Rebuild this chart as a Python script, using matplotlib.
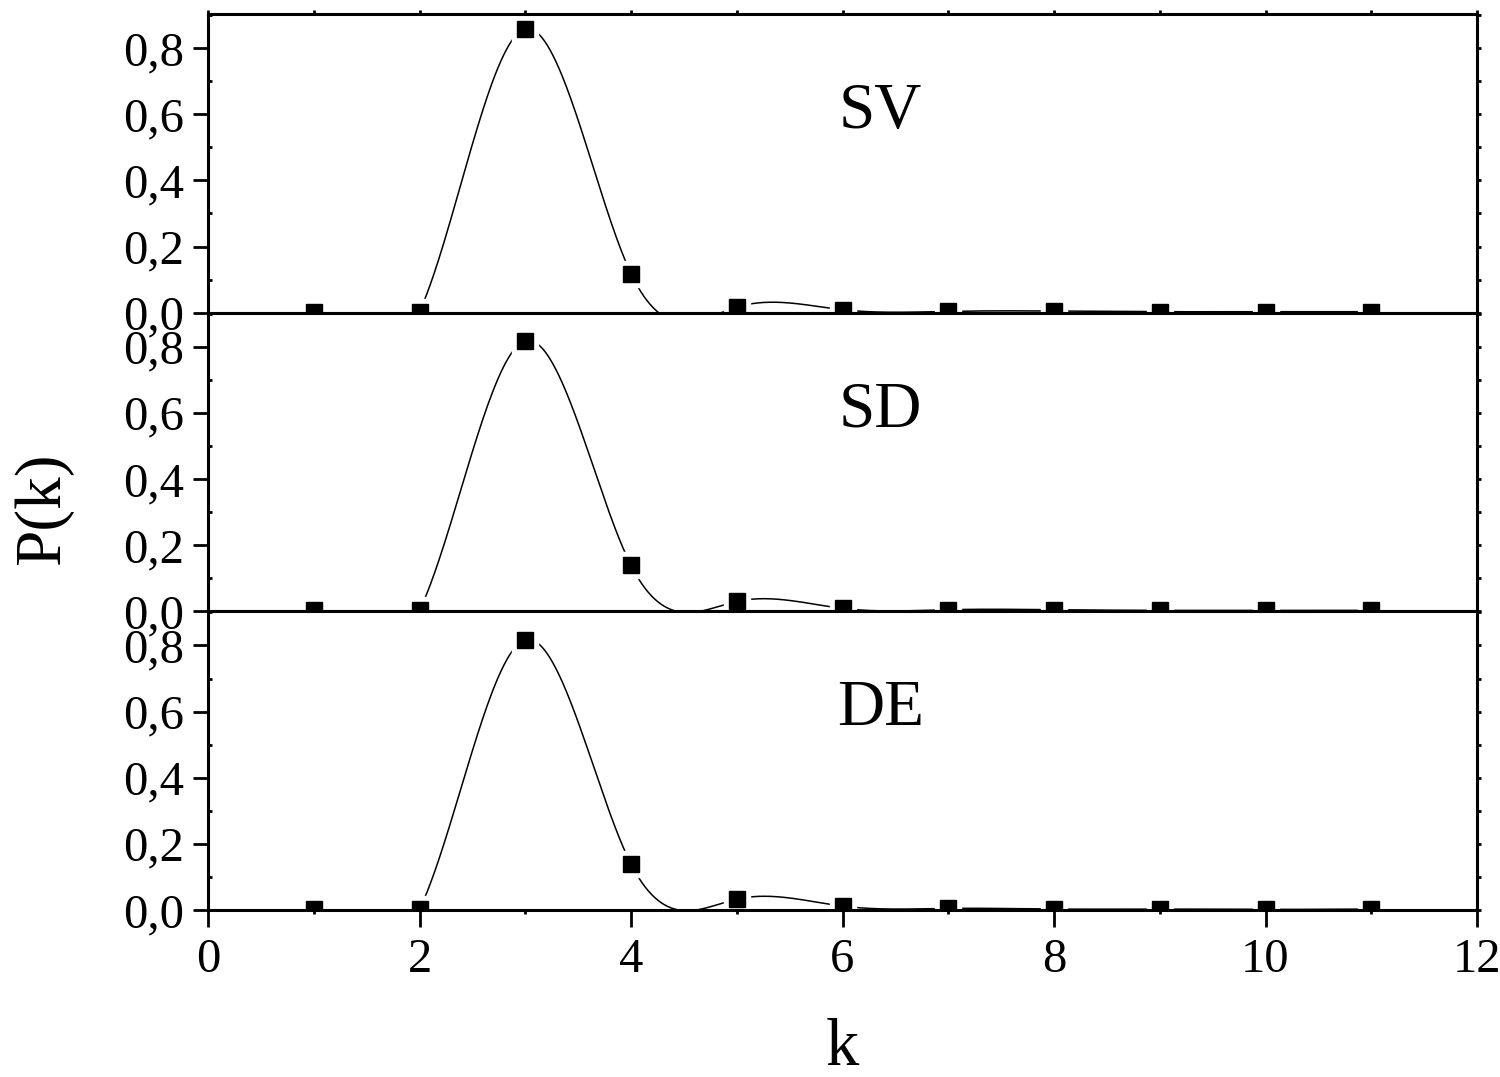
import numpy as np
import matplotlib
matplotlib.use("Agg")
import matplotlib.pyplot as plt
from matplotlib.ticker import MultipleLocator, FuncFormatter

# data
k = [1, 2, 3, 4, 5, 6, 7, 8, 9, 10, 11]
p_sv = [0.003, 0.003, 0.858, 0.118, 0.017, 0.009, 0.004, 0.005, 0.003, 0.003, 0.003]
p_sd = [0.003, 0.003, 0.818, 0.139, 0.030, 0.009, 0.005, 0.005, 0.003, 0.003, 0.003]
p_de = [0.002, 0.002, 0.817, 0.139, 0.033, 0.012, 0.005, 0.003, 0.003, 0.002, 0.003]
labels = ["SV", "SD", "DE"]
series = [p_sv, p_sd, p_de]


def natural_spline(x, y, xs):
    # plain natural cubic spline, like Origin's "spline" connection
    x = np.asarray(x, float)
    y = np.asarray(y, float)
    n = len(x)
    h = np.diff(x)
    A = np.zeros((n, n))
    b = np.zeros(n)
    A[0, 0] = 1
    A[-1, -1] = 1
    for i in range(1, n - 1):
        A[i, i - 1] = h[i - 1]
        A[i, i] = 2 * (h[i - 1] + h[i])
        A[i, i + 1] = h[i]
        b[i] = 3 * ((y[i + 1] - y[i]) / h[i] - (y[i] - y[i - 1]) / h[i - 1])
    c = np.linalg.solve(A, b)
    idx = np.clip(np.searchsorted(x, xs) - 1, 0, n - 2)
    dx = xs - x[idx]
    bb = (y[idx + 1] - y[idx]) / h[idx] - h[idx] * (2 * c[idx] + c[idx + 1]) / 3
    dd = (c[idx + 1] - c[idx]) / (3 * h[idx])
    return y[idx] + bb * dx + c[idx] * dx ** 2 + dd * dx ** 3


plt.rcParams['font.family'] = ['Liberation Serif', 'DejaVu Serif']

fig = plt.figure(figsize=[15, 10.77], dpi=100)
left, right, top, bottom = 0.1387, 0.9847, 0.987, 0.155
ph = (top - bottom) / 3

fmt = FuncFormatter(lambda v, pos: f"{v:.1f}".replace('.', ','))
xs = np.linspace(1, 11, 1000)

for i, (lab, p) in enumerate(zip(labels, series)):
    ax = fig.add_axes([left, top - (i + 1) * ph, right - left, ph])
    ax.plot(xs, natural_spline(k, p, xs), color='black', lw=1.1, zorder=2)
    # white halo gives the gap between curve and symbol
    ax.plot(k, p, ls='none', marker='s', ms=19, mfc='white', mec='white', zorder=2.1)
    ax.plot(k, p, ls='none', marker='s', ms=12, mfc='black', mec='black', zorder=2.2)
    ax.set_xlim(0, 12)
    ax.set_ylim(0, 0.903)
    for s in ax.spines.values():
        s.set_linewidth(2.2)
    ax.yaxis.set_major_locator(MultipleLocator(0.2))
    ax.yaxis.set_minor_locator(MultipleLocator(0.1))
    ax.yaxis.set_major_formatter(fmt)
    ax.tick_params(axis='y', which='major', direction='out', length=11, width=2,
                   labelsize=35, pad=6, right=False)
    ax.tick_params(axis='y', which='minor', direction='in', length=3, width=2, right=False)
    ax2 = ax.secondary_yaxis('right')
    ax2.yaxis.set_major_locator(MultipleLocator(0.1))
    ax2.tick_params(direction='out', length=3, width=2, labelright=False)
    ax2.spines['right'].set_visible(False)
    if i == 2:
        ax.xaxis.set_major_locator(MultipleLocator(2))
        ax.xaxis.set_minor_locator(MultipleLocator(1))
        ax.tick_params(axis='x', which='major', direction='out', length=12, width=2,
                       labelsize=35, pad=8, top=False)
        ax.tick_params(axis='x', which='minor', direction='out', length=3, width=2, top=False)
        ax.set_xlabel('k', fontsize=48, labelpad=26)
    else:
        ax.xaxis.set_major_locator(MultipleLocator(1))
        ax.tick_params(axis='x', which='major', direction='out', length=3, width=2,
                       labelbottom=False, top=(i == 0))
    ax.text(0.530, 0.619, lab, transform=ax.transAxes, fontsize=47,
            ha='center', va='baseline')

fig.text(0.029, 0.528, 'P(k)', rotation=90, fontsize=47, ha='center', va='center')

fig.savefig('out.png', dpi=100)
